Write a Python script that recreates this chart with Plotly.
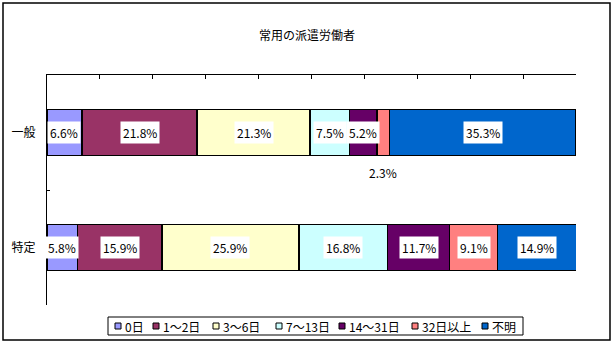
import plotly.graph_objects as go

# Data
categories = ["一般", "特定"]
series_names = ["0日", "1～2日", "3～6日", "7～13日", "14～31日", "32日以上", "不明"]
series_colors = ["#9999FF", "#993366", "#FFFFCC", "#CCFFFF", "#660066", "#FF8080", "#0066CC"]
values_ippan = [6.6, 21.8, 21.3, 7.5, 5.2, 2.3, 35.3]
values_tokutei = [5.8, 15.9, 25.9, 16.8, 11.7, 9.1, 14.9]
title_text = "常用の派遣労働者"

W, H = 614, 344
L, R, T, B = 47, 576, 75, 305  # plot area in pixels
FONT = "Noto Sans CJK JP"


def px_x(p):
    return (p - L) / (R - L)


def px_y(p):
    return (B - p) / (B - T)


fig = go.Figure()
series_values = [[values_ippan[i], values_tokutei[i]] for i in range(len(series_names))]
for name, color, vals in zip(series_names, series_colors, series_values):
    fig.add_trace(go.Bar(
        y=categories, x=vals, name=name, orientation="h",
        marker=dict(color=color, line=dict(color="black", width=1.5)),
        width=0.4, showlegend=False, hoverinfo="skip",
    ))

annotations = []
# Value labels on white boxes at each segment centre
for cat, vals in zip(categories, [values_ippan, values_tokutei]):
    cum = 0.0
    for v in vals:
        centre = cum + v / 2
        cum += v
        if v < 3:
            annotations.append(dict(
                x=centre, y=cat, xref="x", yref="y", text=f"{v:.1f}%",
                showarrow=False, yshift=-40,
                font=dict(family=FONT, size=12, color="black"),
            ))
        else:
            annotations.append(dict(
                x=centre, y=cat, xref="x", yref="y", text=f"{v:.1f}%",
                showarrow=False, bgcolor="white", borderpad=2,
                font=dict(family=FONT, size=12, color="black"),
            ))

# Title
annotations.append(dict(
    x=px_x(307), y=px_y(24), xref="paper", yref="paper", text=title_text,
    showarrow=False, font=dict(family=FONT, size=12, color="black"),
))

shapes = []
# Outer frame
shapes.append(dict(type="rect", xref="paper", yref="paper",
                   x0=px_x(3), x1=px_x(610), y0=px_y(3), y1=px_y(340),
                   line=dict(color="black", width=1.5), layer="below"))

# Legend box, swatches and labels
shapes.append(dict(type="rect", xref="paper", yref="paper",
                   x0=px_x(108), x1=px_x(523), y0=px_y(317), y1=px_y(335),
                   line=dict(color="black", width=1), fillcolor="white"))
swatch_x = [115, 153, 213, 276, 339, 412, 482]
for sx, name, color in zip(swatch_x, series_names, series_colors):
    shapes.append(dict(type="rect", xref="paper", yref="paper",
                       x0=px_x(sx), x1=px_x(sx + 6), y0=px_y(323), y1=px_y(329),
                       line=dict(color="black", width=1), fillcolor=color))
    annotations.append(dict(
        x=px_x(sx + 8), y=px_y(326), xref="paper", yref="paper", text=name,
        xanchor="left", yanchor="middle", showarrow=False,
        font=dict(family=FONT, size=12, color="black"),
    ))

fig.update_layout(
    width=W, height=H,
    margin=dict(l=L, r=W - R, t=T, b=H - B, pad=0),
    barmode="stack",
    paper_bgcolor="white", plot_bgcolor="white",
    annotations=annotations, shapes=shapes,
    xaxis=dict(
        range=[0, 100], side="top", dtick=10, showline=True, linecolor="black",
        linewidth=1, ticks="inside", ticklen=4, tickcolor="black",
        showticklabels=False, showgrid=False, zeroline=False, fixedrange=True,
    ),
    yaxis=dict(
        range=[1.5, -0.5], showline=True, linecolor="black", linewidth=1,
        ticks="inside", ticklen=3, tickcolor="black", tickson="boundaries",
        showgrid=False, zeroline=False, ticklabelstandoff=8,
        tickfont=dict(family=FONT, size=12, color="black"), fixedrange=True,
    ),
    showlegend=False,
)

fig.write_html("out.html")
